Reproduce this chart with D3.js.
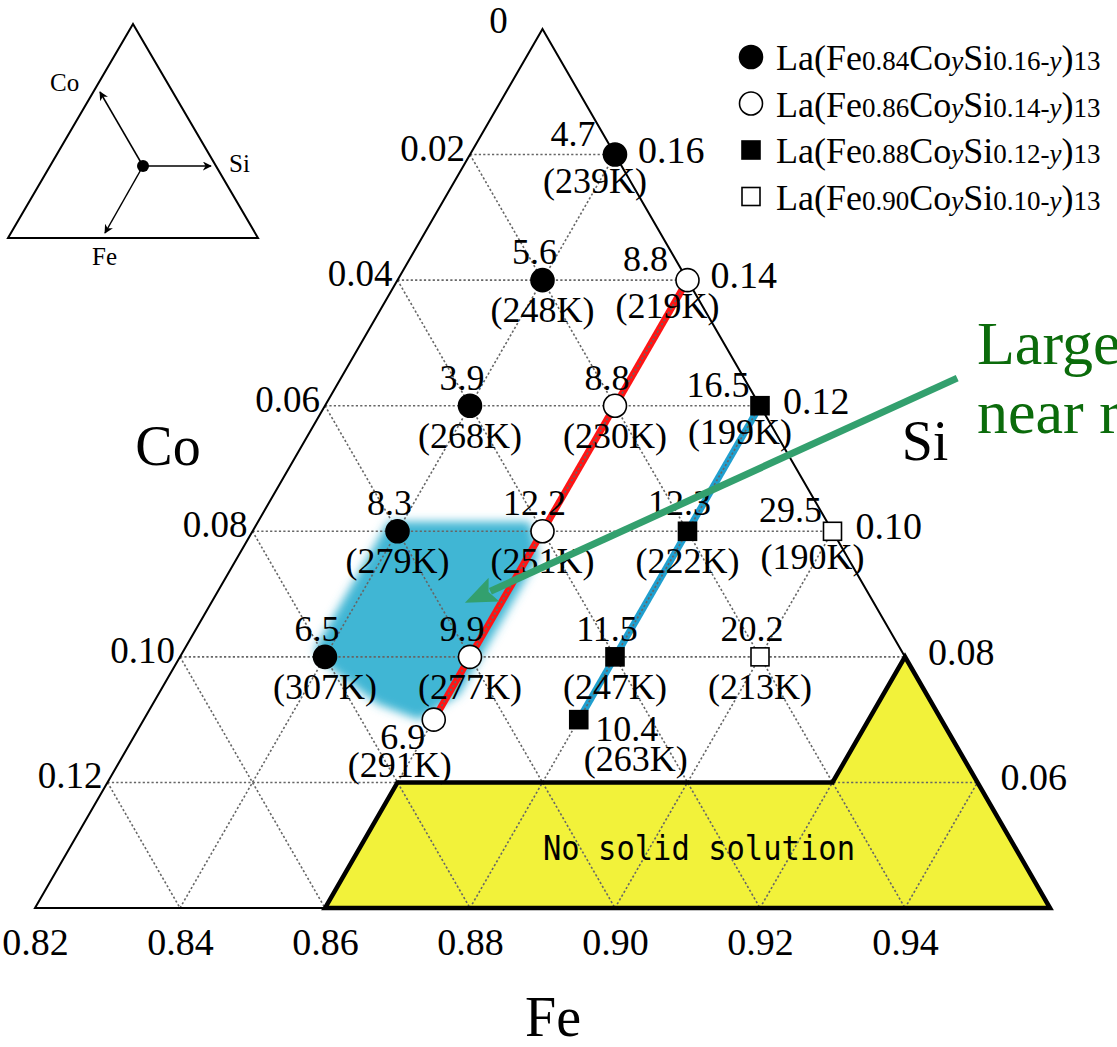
<!DOCTYPE html>
<html>
<head>
<meta charset="utf-8">
<script src="https://cdn.jsdelivr.net/npm/d3@7"></script>
<style>
  body { margin: 0; background: #fff; }
  text { font-family: "Liberation Serif", "Times New Roman", serif; }
</style>
</head>
<body>
<div id="chart"></div>
<script>
// series: Fe content of each composition line
let feLevels = [0.84, 0.86, 0.88, 0.90]
let siTotals = ["0.16", "0.14", "0.12", "0.10"]

// Co content, entropy change and Tc of each sample
let co084 = [0.02, 0.04, 0.06, 0.08, 0.10]
let ds084 = ["4.7", "5.6", "3.9", "8.3", "6.5"]
let tc084 = [239, 248, 268, 279, 307]

let co086 = [0.04, 0.06, 0.08, 0.10, 0.11]
let ds086 = ["8.8", "8.8", "12.2", "9.9", "6.9"]
let tc086 = [219, 230, 251, 277, 291]

let co088 = [0.06, 0.08, 0.10, 0.11]
let ds088 = ["16.5", "12.3", "11.5", "10.4"]
let tc088 = [199, 222, 247, 263]

let co090 = [0.08, 0.10]
let ds090 = ["29.5", "20.2"]
let tc090 = [190, 213]

// axis ticks
let feTicks = [0.82, 0.84, 0.86, 0.88, 0.90, 0.92, 0.94]
let coTicks = [0.02, 0.04, 0.06, 0.08, 0.10, 0.12]
let coTickLabels = ["0.02", "0.04", "0.06", "0.08", "0.10", "0.12"]
let siTickLabels = ["0.16", "0.14", "0.12", "0.10", "0.08", "0.06"]

// regions (Fe, Co)
let noSolution = [[0.86, 0.14], [0.86, 0.12], [0.92, 0.12], [0.92, 0.10], [0.96, 0.14]]
let largeRegion = [[0.838, 0.0785], [0.8575, 0.0785], [0.8615, 0.084], [0.8615, 0.106], [0.858, 0.110],
                   [0.851, 0.1075], [0.842, 0.102], [0.838, 0.099]]
let arrowFrom = [0.905, 0.0556]
let arrowTo = [0.855, 0.0914]

let series = [
  { fe: feLevels[0], co: co084, ds: ds084, tc: tc084 },
  { fe: feLevels[1], co: co086, ds: ds086, tc: tc086 },
  { fe: feLevels[2], co: co088, ds: ds088, tc: tc088 },
  { fe: feLevels[3], co: co090, ds: ds090, tc: tc090 },
]
let points = []
series.forEach(function (s, i) {
  s.co.forEach(function (c, j) {
    points.push({ series: i, fe: s.fe, co: c, ds: s.ds[j], tc: s.tc[j] })
  })
})

let svg = d3.select("#chart")
  .append("svg")
  .attr("width", 1117)
  .attr("height", 1047)

// scales: bottom = Fe, rows = Co
let xscale = d3.scaleLinear().domain([0.82, 0.96]).range([35, 1050])
let yscale = d3.scaleLinear().domain([0, 0.14]).range([29, 908])
let yBottom = yscale(0.14)

function pos(fe, co) {
  return [xscale(fe) + (yBottom - yscale(co)) / Math.sqrt(3), yscale(co)]
}
let line = d3.line().x(d => pos(d[0], d[1])[0]).y(d => pos(d[0], d[1])[1])

let defs = svg.append("defs")
defs.append("filter").attr("id", "blur")
  .attr("x", "-20%").attr("y", "-20%").attr("width", "140%").attr("height", "140%")
  .append("feGaussianBlur").attr("stdDeviation", 5)

// blue region
svg.append("path")
  .attr("d", line(largeRegion) + "Z")
  .attr("fill", "#3fb6d4")
  .attr("filter", "url(#blur)")

// yellow region
svg.append("path")
  .attr("d", line(noSolution) + "Z")
  .attr("fill", "#f2f23a")

// composition lines
let red = series[1]
svg.append("path")
  .attr("d", line([[red.fe, d3.min(red.co)], [red.fe, d3.max(red.co)]]))
  .attr("stroke", "#ff1414").attr("stroke-width", 7).attr("fill", "none")
let blue = series[2]
svg.append("path")
  .attr("d", line([[blue.fe, d3.min(blue.co)], [blue.fe, d3.max(blue.co)]]))
  .attr("stroke", "#1f9fcf").attr("stroke-width", 7).attr("fill", "none")

// grid
let grid = svg.append("g")
  .attr("stroke", "#666").attr("stroke-width", 1.6)
  .attr("stroke-dasharray", "2.2,2.2").attr("fill", "none")
coTicks.forEach(function (c) {
  grid.append("path").attr("d", line([[0.82, c], [0.82 + c, c]]))
})
feTicks.slice(1).forEach(function (f) {
  grid.append("path").attr("d", line([[f, 0.14], [f, f - 0.82]]))
})
coTicks.forEach(function (c) {
  grid.append("path").attr("d", line([[0.82, c], [0.82 + (0.14 - c), 0.14]]))
})

// triangle
svg.append("path")
  .attr("d", line([[0.82, 0], [0.82, 0.14], [0.96, 0.14]]) + "Z")
  .attr("stroke", "#000").attr("stroke-width", 2).attr("fill", "none")

svg.append("path")
  .attr("d", line(noSolution) + "Z")
  .attr("stroke", "#000").attr("stroke-width", 4.5).attr("fill", "none")
  .attr("stroke-linejoin", "miter")

svg.append("text")
  .attr("x", 543).attr("y", 860)
  .attr("textLength", 312).attr("lengthAdjust", "spacingAndGlyphs")
  .style("font-family", "'DejaVu Sans Mono', monospace")
  .attr("font-size", "34px")
  .text("No solid solution")

// bottom axis (Fe)
let gx = svg.append("g")
  .attr("transform", `translate(0,${yBottom})`)
  .call(d3.axisBottom(xscale).tickValues(feTicks).tickSize(0).tickPadding(20)
    .tickFormat(d3.format(".2f")))
gx.select(".domain").remove()
gx.attr("font-family", null)
gx.selectAll("text")
  .attr("font-size", "38px")
  .attr("fill", "#000")
  .style("font-family", "'Liberation Serif', serif")
  .attr("dy", "0.71em")

// Co ticks on left edge
coTicks.forEach(function (c, i) {
  let p = pos(0.82, c)
  svg.append("text")
    .attr("x", p[0] - 5).attr("y", p[1] + 6)
    .attr("text-anchor", "end").attr("font-size", "37px")
    .text(coTickLabels[i])
})
svg.append("text")
  .attr("x", pos(0.82, 0)[0] - 44).attr("y", 33)
  .attr("text-anchor", "middle").attr("font-size", "37px")
  .text("0")

// Si labels on right edge
coTicks.forEach(function (c, i) {
  let p = pos(0.82 + c, c)
  svg.append("text")
    .attr("x", p[0] + 23).attr("y", p[1] + 8)
    .attr("font-size", "38px")
    .text(siTickLabels[i])
})

// axis titles
svg.append("text").attr("x", 168).attr("y", 465).attr("text-anchor", "middle")
  .attr("font-size", "56px").text("Co")
svg.append("text").attr("x", 925).attr("y", 460).attr("text-anchor", "middle")
  .attr("font-size", "56px").text("Si")
svg.append("text").attr("x", 553).attr("y", 1036).attr("text-anchor", "middle")
  .attr("font-size", "56px").text("Fe")

// markers
function drawMarker(g, i, x, y) {
  if (i < 2) {
    g.append("circle").attr("cx", x).attr("cy", y).attr("r", 11.5)
      .attr("fill", i === 0 ? "#000" : "#fff")
      .attr("stroke", "#000").attr("stroke-width", 1.6)
  } else {
    let s = 18
    g.append("rect").attr("x", x - s / 2).attr("y", y - s / 2)
      .attr("width", s).attr("height", s)
      .attr("fill", i === 2 ? "#000" : "#fff")
      .attr("stroke", "#000").attr("stroke-width", 1.6)
  }
}

let marks = svg.append("g")
points.forEach(function (d) {
  let p = pos(d.fe, d.co)
  drawMarker(marks, d.series, p[0], p[1])
})

// labels
function labelOffset(d) {
  let onEdge = Math.abs(d.fe - d.co - 0.82) < 1e-6
  let offRow = Math.round(d.co * 100) % 2 === 1
  if (offRow && d.series === 1) return { v: [-31, 29], k: [-34, 57] }
  if (offRow) return { v: [48, 21], k: [57, 51] }
  if (onEdge) return { v: [-42, -9], k: [-20, 38] }
  return { v: [-8, -16], k: [0, 42] }
}
let labels = svg.append("g").attr("font-size", "36px").attr("text-anchor", "middle")
points.forEach(function (d) {
  let p = pos(d.fe, d.co)
  let o = labelOffset(d)
  labels.append("text").attr("x", p[0] + o.v[0]).attr("y", p[1] + o.v[1]).text(d.ds)
  labels.append("text").attr("x", p[0] + o.k[0]).attr("y", p[1] + o.k[1]).text("(" + d.tc + "K)")
})

// legend
let legend = svg.append("g")
series.forEach(function (s, i) {
  let y = 57 + i * 46.5
  drawMarker(legend, i, 751, y)
  let t = legend.append("text").attr("x", 776).attr("y", y + 13).attr("font-size", "36px")
  t.append("tspan").text("La(Fe")
  t.append("tspan").attr("font-size", "27px").text(d3.format(".2f")(s.fe))
  t.append("tspan").text("Co")
  t.append("tspan").attr("font-size", "27px").attr("font-style", "italic").text("y")
  t.append("tspan").text("Si")
  t.append("tspan").attr("font-size", "27px").text(siTotals[i] + "-")
  t.append("tspan").attr("font-size", "27px").attr("font-style", "italic").text("y")
  t.append("tspan").text(")")
  t.append("tspan").attr("font-size", "27px").text("13")
})

// inset triangle
let inset = svg.append("g").attr("stroke", "#000").attr("fill", "none")
inset.append("path").attr("d", "M133,24L8,238L258,238Z").attr("stroke-width", 2)
defs.append("marker").attr("id", "ah").attr("viewBox", "0 0 10 10")
  .attr("refX", 9).attr("refY", 5).attr("markerWidth", 9).attr("markerHeight", 9)
  .attr("markerUnits", "userSpaceOnUse").attr("orient", "auto")
  .append("path").attr("d", "M0,0L10,5L0,10L3,5Z").attr("fill", "#000").attr("stroke", "none")
inset.selectAll("line.arr")
  .data([[100, 92], [211, 166], [105, 233]])
  .enter().append("line")
  .attr("x1", 143).attr("y1", 166)
  .attr("x2", d => d[0]).attr("y2", d => d[1])
  .attr("stroke-width", 1.5).attr("marker-end", "url(#ah)")
inset.append("circle").attr("cx", 143).attr("cy", 166).attr("r", 6)
  .attr("fill", "#000").attr("stroke", "none")
svg.append("text").attr("x", 50).attr("y", 91).attr("font-size", "25px").text("Co")
svg.append("text").attr("x", 229).attr("y", 172).attr("font-size", "25px").text("Si")
svg.append("text").attr("x", 92).attr("y", 265).attr("font-size", "25px").text("Fe")

// green annotation
let a0 = pos(arrowFrom[0], arrowFrom[1])
let a1 = pos(arrowTo[0], arrowTo[1])
let len = Math.hypot(a1[0] - a0[0], a1[1] - a0[1])
let ux = (a1[0] - a0[0]) / len, uy = (a1[1] - a0[1]) / len
let hl = 32, hw = 13
let base = [a1[0] - ux * hl, a1[1] - uy * hl]
svg.append("line")
  .attr("x1", a0[0]).attr("y1", a0[1])
  .attr("x2", base[0] + ux * 4).attr("y2", base[1] + uy * 4)
  .attr("stroke", "#33a06e").attr("stroke-width", 7)
svg.append("path")
  .attr("d", `M${a1[0]},${a1[1]}L${base[0] - uy * hw},${base[1] + ux * hw}L${base[0] + ux * 6},${base[1] + uy * 6}L${base[0] + uy * hw},${base[1] - ux * hw}Z`)
  .attr("fill", "#33a06e")

svg.append("text").attr("x", 977).attr("y", 364).attr("font-size", "62px")
  .attr("fill", "#0b6b0b").text("Large")
svg.append("text").attr("x", 977).attr("y", 433).attr("font-size", "62px")
  .attr("fill", "#0b6b0b").text("near r")
</script>
</body>
</html>
